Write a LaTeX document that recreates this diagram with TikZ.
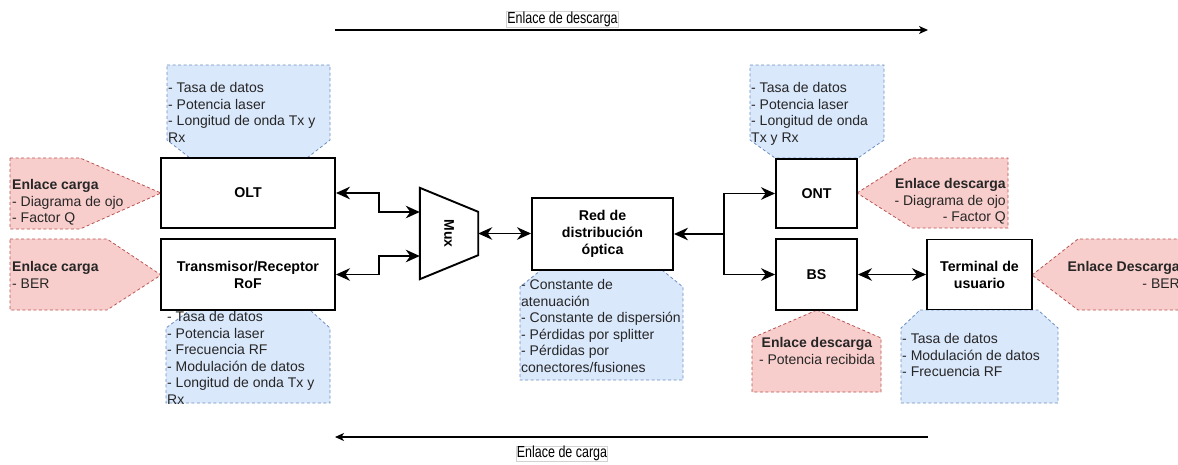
\documentclass[tikz,border=0pt]{standalone}
\usepackage{fontspec}
\setmainfont{Liberation Sans}
\usetikzlibrary{arrows.meta,calc}
\definecolor{bfill}{HTML}{DAE8FC}
\definecolor{bdraw}{HTML}{6C8EBF}
\definecolor{rfill}{HTML}{F8CECC}
\definecolor{rdraw}{HTML}{B85450}
\begin{document}
\begin{tikzpicture}[x=1pt,y=-1pt,
  blk/.style={draw=black, line width=1.9pt, fill=white, align=center, font=\fontsize{14.2}{17}\selectfont\bfseries, inner sep=0pt},
  bcall/.style={draw=bdraw, fill=bfill, line width=0.8pt, dash pattern=on 3pt off 2.5pt},
  rcall/.style={draw=rdraw, fill=rfill, line width=0.8pt, dash pattern=on 3pt off 2.5pt},
  ctext/.style={font=\fontsize{14}{16.5}\selectfont, inner sep=0pt, text=black!85},
  conn/.style={line width=1.9pt, -{Stealth[length=14pt,width=12.5pt,inset=4.5pt]}},
  dconn/.style={line width=1.9pt, {Stealth[length=14pt,width=12.5pt,inset=4.5pt]}-{Stealth[length=14pt,width=12.5pt,inset=4.5pt]}},
  sconn/.style={line width=1.9pt, {Stealth[length=14pt,width=12.5pt,inset=4.5pt]}-},
  flow/.style={line width=1.2pt, -{Stealth[length=9pt,width=8pt,inset=2.5pt]}},
  flowlbl/.style={draw=gray!35, line width=0.5pt, font=\fontsize{16}{18}\selectfont, xscale=0.78, transform shape, inner xsep=0.8pt, inner ysep=0.3pt},
]
\useasboundingbox (0,0) rectangle (1178,464);
\fill[white] (0,0) rectangle (1178,464);

% ---- callouts (shapes) ----
\draw[bcall] (167,65) -- (330,65) -- (330,140) -- (307,158) -- (190,158) -- (167,140) -- cycle;
\draw[rcall] (10,158) -- (80,158) -- (161,193) -- (80,229) -- (10,229) -- cycle;
\draw[rcall] (10,239) -- (107,239) -- (161,275) -- (107,310) -- (10,310) -- cycle;
\draw[bcall] (190,310) -- (310,310) -- (330,328) -- (330,403) -- (166,403) -- (166,328) -- cycle;
\draw[bcall] (541,270) -- (662,270) -- (683,287) -- (683,380) -- (520,380) -- (520,287) -- cycle;
\draw[bcall] (750,65) -- (884,65) -- (884,140) -- (858,158) -- (775,158) -- (750,140) -- cycle;
\draw[rcall] (857,193) -- (912,158) -- (1008,158) -- (1008,228) -- (912,228) -- cycle;
\draw[rcall] (817,310) -- (881,338) -- (881,392) -- (752,392) -- (752,338) -- cycle;
\draw[bcall] (920,310) -- (1038,310) -- (1058,328) -- (1058,403) -- (901,403) -- (901,328) -- cycle;
\draw[rcall] (1032,275) -- (1078,239) -- (1190,239) -- (1190,310) -- (1078,310) -- cycle;

% ---- callout texts ----
\node[ctext, anchor=north west, align=left] (c1) at (168,82.5) {- Tasa de datos\\- Potencia laser\\- Longitud de onda Tx y\\Rx};
\node[ctext, anchor=north west, align=left] (c2) at (12,179.5) {\textbf{Enlace carga}\\- Diagrama de ojo\\- Factor Q};
\node[ctext, anchor=north west, align=left] (c3) at (12,261.5) {\textbf{Enlace carga}\\- BER};
\node[ctext, anchor=north west, align=left] (c4) at (167,311.5) {- Tasa de datos\\- Potencia laser\\- Frecuencia RF\\- Modulación de datos\\- Longitud de onda Tx y\\Rx};
\node[ctext, anchor=north west, align=left] (c5) at (521,279.5) {- Constante de\\atenuación\\- Constante de dispersión\\- Pérdidas por splitter\\- Pérdidas por\\conectores/fusiones};
\node[ctext, anchor=north west, align=left] (c6) at (751,82.5) {- Tasa de datos\\- Potencia laser\\- Longitud de onda\\Tx y Rx};
\node[ctext, anchor=north east, align=right] (c7) at (1006,178.5) {\textbf{Enlace descarga}\\- Diagrama de ojo\\- Factor Q};
\node[ctext, anchor=north, align=center] (c8) at (817,337.5) {\textbf{Enlace descarga}\\- Potencia recibida};
\node[ctext, anchor=north west, align=left] (c9) at (902,333.5) {- Tasa de datos\\- Modulación de datos\\- Frecuencia RF};
\node[ctext, anchor=north east, align=right] (c10) at (1180,261.5) {\textbf{Enlace Descarga}\\- BER};

% ---- blocks ----
\node[blk, minimum width=174pt, minimum height=70pt] (olt) at (248,193) {OLT};
\node[blk, minimum width=174pt, minimum height=71pt] (rof) at (248,274.5) {Transmisor/Receptor\\RoF};
\node[inner sep=0pt, minimum width=58pt, minimum height=91pt] (mux) at (449,233.5) {};
\draw[line width=1.9pt, fill=white] (mux.north west) -- ([yshift=-24pt]mux.north east) -- ([yshift=24pt]mux.south east) -- (mux.south west) -- cycle;
\node[rotate=-90, font=\fontsize{14}{16}\selectfont\bfseries, inner sep=0pt] (muxlbl) at (mux.center) {Mux};
\node[blk, minimum width=141pt, minimum height=72pt] (rdo) at (602.5,234) {Red de\\distribución\\óptica};
\node[blk, minimum width=81pt, minimum height=69pt] (ont) at (816.5,193.5) {ONT};
\node[blk, minimum width=81pt, minimum height=71pt] (bs) at (816.5,274.5) {BS};
\node[blk, minimum width=105pt, minimum height=70pt] (term) at (979.5,274.5) {Terminal de\\usuario};

% ---- connectors ----
\draw[dconn] (olt.east) -- ++(43,0) |- ([yshift=21.5pt]mux.west);
\draw[dconn] (rof.east) -- ++(43,0) |- ([yshift=-22.5pt]mux.west);
\draw[dconn] (mux.east) -- (mux.east -| rdo.west);
\draw[sconn] (rdo.east) -- ++(50,0) coordinate (split);
\draw[conn] (split) |- (ont.west);
\draw[conn] (split) |- (bs.west);
\draw[dconn] (bs.east) -- (term.west);

% ---- flow arrows ----
\coordinate (dlA) at (335,30);
\coordinate (dlB) at (928,30);
\draw[flow] (dlA) -- (dlB);
\node[flowlbl] (dllbl) at (562.5,19.5) {Enlace de descarga};
\coordinate (ulA) at (928,437);
\coordinate (ulB) at (335,437);
\draw[flow] (ulA) -- (ulB);
\node[flowlbl] (ullbl) at (562,453.5) {Enlace de carga};
\end{tikzpicture}
\end{document}
